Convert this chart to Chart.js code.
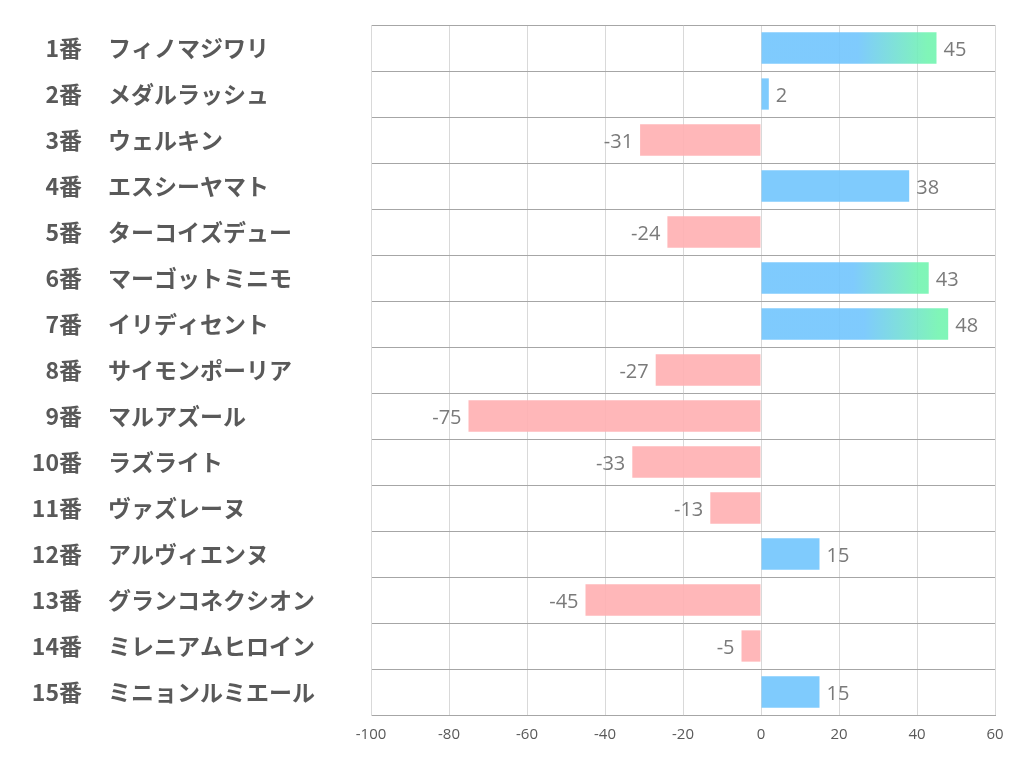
<!DOCTYPE html>
<html>
<head>
<meta charset="utf-8">
<script src="https://cdn.jsdelivr.net/npm/chart.js@4/dist/chart.umd.min.js"></script>
<style>
  body { margin: 0; background: #fff; }
  #wrap { width: 1022px; height: 782px; }
</style>
</head>
<body>
<div id="wrap"><canvas id="chart"></canvas></div>
<script>
const horseNums = ['1番','2番','3番','4番','5番','6番','7番','8番','9番','10番','11番','12番','13番','14番','15番'];
const horseNames = ['フィノマジワリ','メダルラッシュ','ウェルキン','エスシーヤマト','ターコイズデュー','マーゴットミニモ','イリディセント','サイモンポーリア','マルアズール','ラズライト','ヴァズレーヌ','アルヴィエンヌ','グランコネクシオン','ミレニアムヒロイン','ミニョンルミエール'];
const scores = [45, 2, -31, 38, -24, 43, 48, -27, -75, -33, -13, 15, -45, -5, 15];
const xMin = -100, xMax = 60, xStep = 20;

const blue = 'rgba(113,197,253,0.9)';
const green = 'rgba(114,244,176,0.9)';
const pink = 'rgba(255,175,177,0.9)';

function barColor(ctx){
  const v = scores[ctx.dataIndex];
  if (v < 0) return pink;
  if (v < 40) return blue;
  const x = ctx.chart.scales.x;
  if (!x) return blue;
  const x0 = x.getPixelForValue(0), x1 = x.getPixelForValue(v);
  if (!isFinite(x0) || !isFinite(x1) || x1 <= x0) return blue;
  const g = ctx.chart.ctx.createLinearGradient(x0, 0, x1, 0);
  g.addColorStop(0, blue);
  g.addColorStop(0.55, blue);
  g.addColorStop(0.95, green);
  g.addColorStop(1, green);
  return g;
}

const valueLabels = {
  id: 'valueLabels',
  afterDatasetsDraw(chart){
    const ctx = chart.ctx;
    const meta = chart.getDatasetMeta(0);
    ctx.save();
    ctx.font = '20px "Open Sans", "Noto Sans", sans-serif';
    ctx.fillStyle = '#7a7a7a';
    ctx.textBaseline = 'middle';
    meta.data.forEach((bar, i) => {
      const v = scores[i];
      if (v >= 0) {
        ctx.textAlign = 'left';
        ctx.fillText(String(v), bar.x + 7, bar.y + 2);
      } else {
        ctx.textAlign = 'right';
        ctx.fillText(String(v), bar.x - 7, bar.y + 2);
      }
    });
    ctx.restore();
  }
};

const labelFont = { family: '"Noto Sans CJK JP", sans-serif', size: 23, weight: 'bold' };

// keep the tick labels from pushing the plot area in
function noPad(scale, w){
  scale.width = w;
  scale.paddingTop = 0;
  scale.paddingBottom = 0;
}

new Chart(document.getElementById('chart'), {
  type: 'bar',
  data: {
    labels: horseNames,
    datasets: [{
      data: scores,
      backgroundColor: barColor,
      borderWidth: 0,
      barPercentage: 0.68,
      categoryPercentage: 1
    }]
  },
  options: {
    indexAxis: 'y',
    responsive: true,
    maintainAspectRatio: false,
    animation: false,
    layout: { padding: { left: 0, top: 25, right: 27, bottom: 27 } },
    plugins: { legend: { display: false }, tooltip: { enabled: false } },
    scales: {
      x: {
        min: xMin,
        max: xMax,
        ticks: { stepSize: xStep, color: '#595959', font: { family: '"Open Sans", sans-serif', size: 15 }, padding: 11 },
        grid: { color: '#d9d9d9', drawTicks: false },
        border: { color: '#a6a6a6' }
      },
      y: {
        type: 'category',
        position: 'left',
        weight: 0,
        offset: true,
        ticks: { autoSkip: false, crossAlign: 'far', color: '#595959', font: labelFont, padding: 0 },
        grid: { color: '#a6a6a6', offset: true, drawTicks: false },
        border: { color: '#d9d9d9' },
        afterFit(scale){ noPad(scale, 263); }
      },
      yNum: {
        type: 'category',
        position: 'left',
        weight: 1,
        offset: true,
        labels: horseNums,
        ticks: { autoSkip: false, crossAlign: 'near', color: '#595959', font: labelFont, padding: 26 },
        grid: { display: false, drawTicks: false },
        border: { display: false },
        afterFit(scale){ noPad(scale, 108); }
      }
    }
  },
  plugins: [valueLabels]
});
</script>
</body>
</html>
